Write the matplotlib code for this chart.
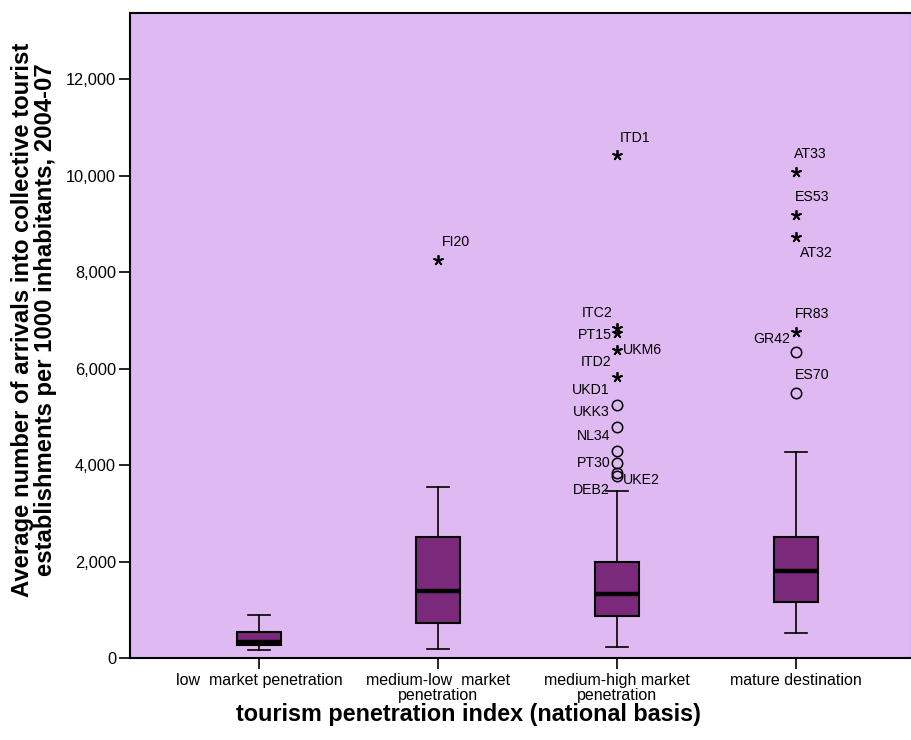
import matplotlib
matplotlib.use("Agg")
import matplotlib.pyplot as plt
from matplotlib.ticker import FuncFormatter

plt.rcParams['font.family'] = ['Liberation Sans', 'DejaVu Sans']

# categories and box statistics
categories = ["low  market penetration", "medium-low  market\npenetration",
              "medium-high market\npenetration", "mature destination"]
whisker_low = [166, 193, 222, 512]
q1 = [269, 732, 870, 1154]
medians = [332, 1389, 1320, 1810]
q3 = [545, 2502, 1996, 2502]
whisker_high = [897, 3551, 3468, 4263]

# outliers: group index, value, label, kind ('o' mild, '*' extreme)
out_group = [1, 2, 2, 2, 2, 2, 2, 2, 2, 2, 2, 2,
             3, 3, 3, 3, 3, 3]
out_value = [8249, 10425, 6833, 6729, 6383, 5817, 5250, 4793, 4297, 4035, 3840, 3772,
             10079, 9181, 8720, 6763, 6349, 5486]
out_label = ["FI20", "ITD1", "ITC2", "PT15", "UKM6", "ITD2", "UKD1", "UKK3", "NL34",
             "PT30", "UKE2", "DEB2",
             "AT33", "ES53", "AT32", "FR83", "GR42", "ES70"]
out_kind = ["*", "*", "*", "*", "*", "*", "o", "o", "o", "o", "o", "o",
            "*", "*", "*", "*", "o", "o"]

# label placement (pixel offsets from the marker, horizontal alignment)
lab_dx = [4, 3, -5, -5, 6, -6, -7, -7, -7, -7, 6, -7,
          -2, -1, 4, -1, -6, -1]
lab_dy = [18, 17, 15, -2, 0, 15, 15, 15, 15, 0, -7, -14,
          18, 18, -16, 18, 13, 18]
lab_ha = ["left", "left", "right", "right", "left", "right", "right", "right", "right",
          "right", "left", "right",
          "left", "left", "left", "left", "right", "left"]

box_face = "#7b2a7b"
bg = "#dfbaf2"

fig = plt.figure(figsize=(9.12, 7.4), dpi=100)
ax = fig.add_axes([130 / 912, 82 / 740, 782 / 912, 645 / 740])
ax.set_facecolor(bg)

stats = []
for i in range(len(categories)):
    stats.append({"whislo": whisker_low[i], "q1": q1[i], "med": medians[i],
                  "q3": q3[i], "whishi": whisker_high[i], "fliers": []})

pos = list(range(1, len(categories) + 1))
ax.bxp(stats, positions=pos, widths=0.25, capwidths=0.123, showfliers=False,
       patch_artist=True,
       boxprops=dict(facecolor=box_face, edgecolor="black", linewidth=1.5),
       medianprops=dict(color="black", linewidth=3.2, solid_capstyle="butt"),
       whiskerprops=dict(color="black", linewidth=1.2),
       capprops=dict(color="black", linewidth=1.2))

for g, v, lab, k, dx, dy, ha in zip(out_group, out_value, out_label, out_kind,
                                    lab_dx, lab_dy, lab_ha):
    x = pos[g]
    if k == "o":
        ax.plot(x, v, marker="o", markersize=7.5, markerfacecolor="none",
                markeredgecolor="black", markeredgewidth=1.1, linestyle="none")
    else:
        ax.plot(x, v, marker=(5, 2, 0), markersize=7.5, color="black",
                markeredgewidth=1.3, linestyle="none")
    ax.annotate(lab, (x, v), xytext=(dx, dy), textcoords="offset pixels",
                ha=ha, va="center", fontsize=10.2, color="black")

ax.set_xlim(0.2793, 4.648)
ax.set_ylim(0, 13370)
ax.set_yticks(range(0, 12001, 2000))
ax.yaxis.set_major_formatter(FuncFormatter(lambda v, p: f"{int(v):,}"))
ax.set_xticks(pos)
ax.set_xticklabels(categories, linespacing=1.0)
ax.tick_params(axis="both", direction="out", length=8, width=1.2, labelsize=11.5,
               colors="black")
ax.tick_params(axis="y", pad=2, labelsize=11.8)
ax.tick_params(axis="x", pad=3)
for s in ax.spines.values():
    s.set_linewidth(1.5)
    s.set_color("black")

fig.text(468 / 912, 1 - 715 / 740, "tourism penetration index (national basis)",
         ha="center", va="center", fontsize=16.8, fontweight="bold")
fig.text(34 / 912, 1 - 320 / 740,
         "Average number of arrivals into collective tourist\n"
         "establishments per 1000 inhabitants, 2004-07",
         ha="center", va="center", rotation=90, fontsize=17.2, fontweight="bold",
         linespacing=1.0, multialignment="center")

fig.savefig("out.png", dpi=100)
